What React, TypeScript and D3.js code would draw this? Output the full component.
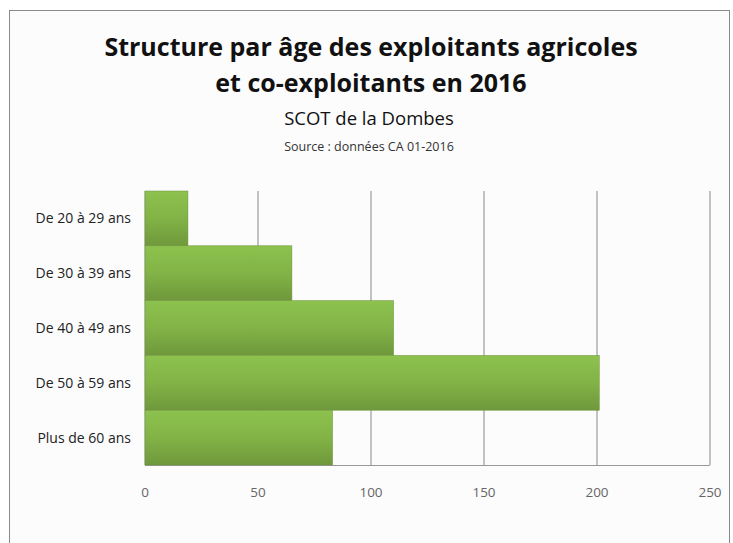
import React from "react";
import * as d3 from "d3";

const categories = ["De 20 à 29 ans", "De 30 à 39 ans", "De 40 à 49 ans", "De 50 à 59 ans", "Plus de 60 ans"];
const values = [19, 65, 110, 201, 83];
const xTicks = [0, 50, 100, 150, 200, 250];
const titleLines = ["Structure par âge des exploitants agricoles", "et co-exploitants en 2016"];
const subtitle = "SCOT de la Dombes";
const source = "Source : données CA 01-2016";

export default function App() {
  const W = 733, H = 543;
  const left = 145, right = 710, top = 191, bottom = 465;
  const x = d3.scaleLinear().domain([0, 250]).range([left, right]);
  const y = d3.scaleBand<string>().domain(categories).range([top, bottom]).paddingInner(0).paddingOuter(0);
  const font = "'Open Sans', sans-serif";
  return (
    <svg width={W} height={H} style={{ position: "absolute", left: 0, top: 0 }}>
      <defs>
        <linearGradient id="barGrad" x1="0" y1="0" x2="0" y2="1">
          <stop offset="0" stopColor="#8dc24e" />
          <stop offset="0.5" stopColor="#82b346" />
          <stop offset="1" stopColor="#6f983b" />
        </linearGradient>
      </defs>
      <rect x={0} y={0} width={W} height={H} fill="#ffffff" />
      <rect x={9.5} y={10.5} width={720} height={H} fill="#fcfcfd" stroke="#8a8a8a" strokeWidth={1} />
      {titleLines.map((t, i) => (
        <text key={i} x={371} y={56 + i * 35.5} textAnchor="middle" fontFamily={font} fontWeight={700} fontSize={25} fill="#111">{t}</text>
      ))}
      <text x={369} y={125} textAnchor="middle" fontFamily={font} fontSize={18.5} fill="#111">{subtitle}</text>
      <text x={369} y={151} textAnchor="middle" fontFamily={font} fontSize={12.5} fill="#333">{source}</text>
      {xTicks.filter(t => t > 0).map(t => (
        <line key={t} x1={x(t)} x2={x(t)} y1={top} y2={bottom} stroke="#888" strokeWidth={1} />
      ))}
      <line x1={left} x2={right} y1={bottom + 0.5} y2={bottom + 0.5} stroke="#999" strokeWidth={1} />
      <line x1={left} x2={left} y1={top} y2={bottom} stroke="#999" strokeWidth={1} />
      {categories.map((c, i) => (
        <rect key={c} x={x(0)} y={y(c)} width={x(values[i]) - x(0)} height={y.bandwidth()} fill="url(#barGrad)" stroke="#6a8f38" strokeWidth={0.5} />
      ))}
      {categories.map(c => (
        <text key={c} x={131} y={(y(c) as number) + y.bandwidth() / 2 + 5} textAnchor="end" fontFamily={font} fontSize={14} fill="#222">{c}</text>
      ))}
      {xTicks.map(t => (
        <text key={t} x={x(t)} y={497} textAnchor="middle" fontFamily={font} fontSize={13.5} fill="#666">{t}</text>
      ))}
    </svg>
  );
}
